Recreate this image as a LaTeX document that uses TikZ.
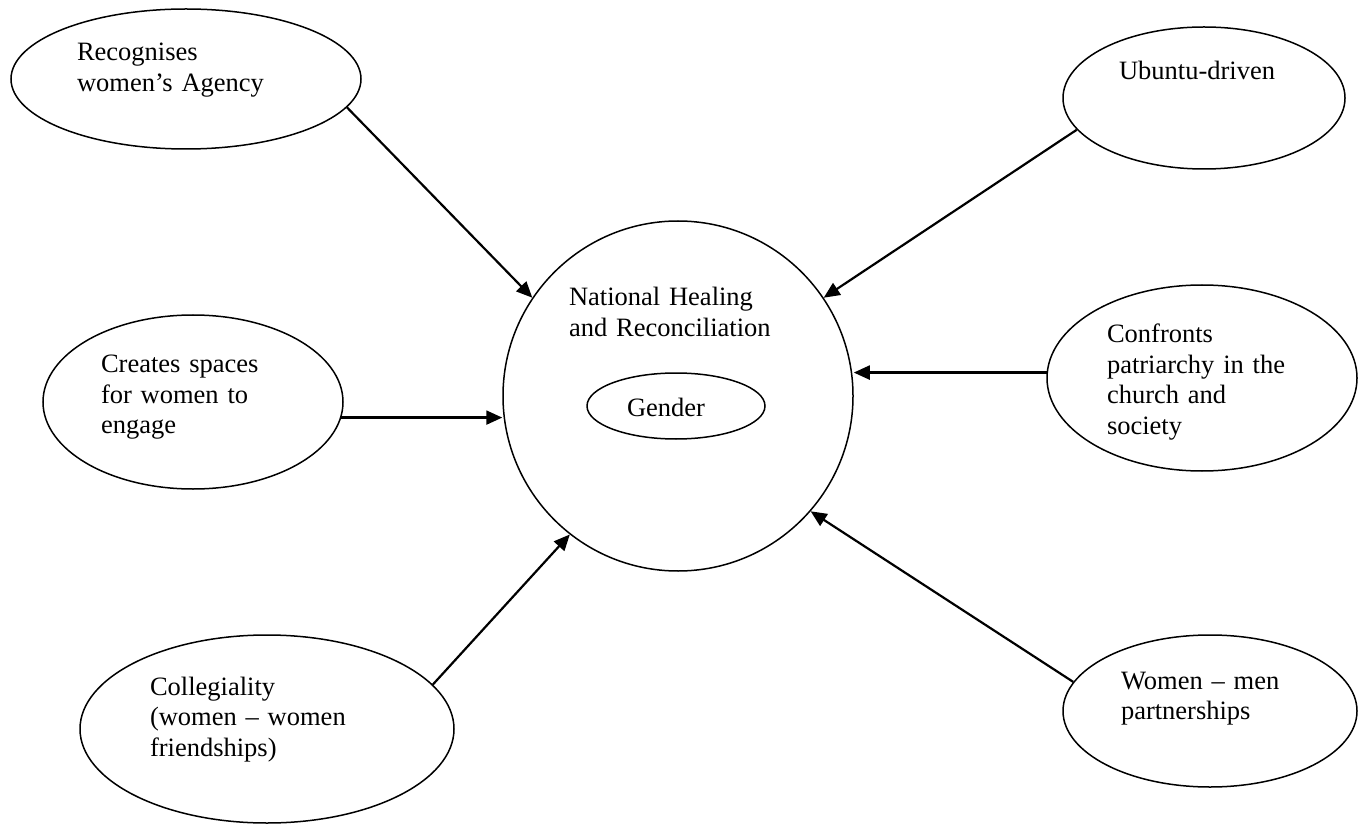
\documentclass[tikz,border=0pt]{standalone}
\usepackage{fontspec}
\setmainfont{Liberation Serif}
\usepackage{tikz}
\usetikzlibrary{arrows.meta,positioning,shapes.geometric}

\begin{document}
\begin{tikzpicture}[->,>={Triangle[length=16pt,width=14pt]},line width=2.2pt,on grid,
	font=\fontsize{26.5}{30.5}\selectfont,
	bubble/.style={ellipse,draw,line width=1.5pt,inner sep=0pt,align=left,text height=20pt}]
\useasboundingbox (0,0) rectangle (1364pt,823pt);

\node	[bubble,circle,minimum size=350pt,text width=218pt,text depth=200pt]	(nhr)	at (678pt,427pt)	{National Healing\\and Reconciliation};
\node	[bubble,minimum width=178pt,minimum height=66pt,text width=98pt,text depth=0pt]	(gender)	[below left=10pt and 2pt of nhr]	{Gender};
\node	[bubble,minimum width=350pt,minimum height=140pt,text width=218pt,text depth=56pt]	(agency)	[above left=317pt and 492pt of nhr]	{Recognises\\women's Agency};
\node	[bubble,minimum width=300pt,minimum height=174pt,text width=184pt,text depth=78pt]	(spaces)	[below left=6pt and 485pt of nhr]	{Creates spaces\\for women to\\engage};
\node	[bubble,minimum width=374pt,minimum height=188pt,text width=234pt,text depth=88pt]	(colleg)	[below left=333pt and 411pt of nhr]	{Collegiality\\(women – women\\friendships)};
\node	[bubble,minimum width=282pt,minimum height=142pt,text width=170pt,text depth=56pt]	(ubuntu)	[above right=298pt and 526pt of nhr]	{Ubuntu-driven};
\node	[bubble,minimum width=310pt,minimum height=186pt,text width=190pt,text depth=90pt]	(confront)	[above right=18pt and 524pt of nhr]	{Confronts\\patriarchy in the\\church and\\society};
\node	[bubble,minimum width=294pt,minimum height=152pt,text width=178pt,text depth=64pt]	(partner)	[below right=315pt and 532pt of nhr]	{Women – men\\partnerships};

\path
	(agency.-10)	edge	(nhr.146)
	(spaces.-6)	edge	(spaces.-6 -| nhr.west)
	(colleg.15)	edge	(nhr.232)
	(ubuntu.194)	edge	(nhr.34)
	(confront.178)	edge	(confront.178 -| nhr.east)
	(partner.168)	edge	(nhr.319)
;
\end{tikzpicture}
\end{document}
